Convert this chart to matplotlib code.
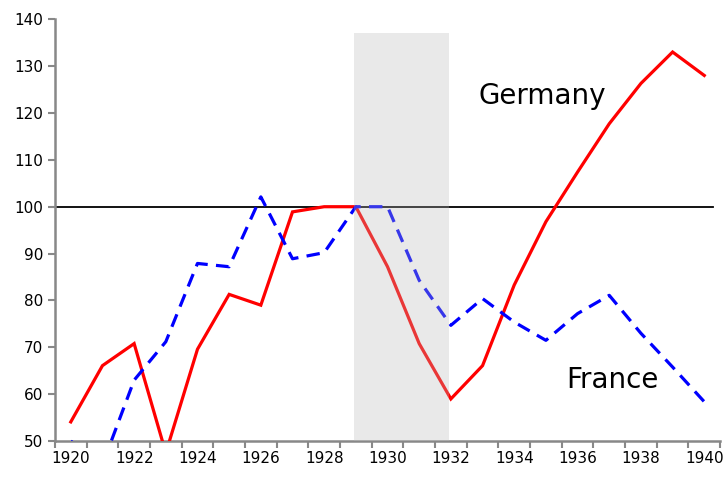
import matplotlib
matplotlib.use("Agg")
import matplotlib.pyplot as plt
from matplotlib.ticker import MultipleLocator

# index values (1929 = 100)
years = list(range(1920, 1941))
germany = [54.1, 66.1, 70.8, 47.5, 69.6, 81.3, 79.0, 98.9, 100.0, 100.0, 87.2,
           70.8, 59.0, 66.1, 83.3, 96.8, 107.4, 117.7, 126.3, 133.0, 128.0]
france = [50.0, 45.0, 63.0, 71.2, 87.9, 87.2, 102.1, 88.9, 90.2, 100.0, 100.0,
          84.3, 74.7, 80.4, 75.4, 71.5, 77.2, 81.1, 73.0, 65.8, 58.4]
depression = (1928.95, 1931.95)
shade_top = 137
baseline = 100

fig = plt.figure(figsize=(7.23, 4.80), dpi=100)
ax = fig.add_axes([0.076, 0.081, 0.92, 0.879])

ax.plot(years, germany, color="#ff0000", lw=2.3, solid_joinstyle="miter", zorder=3)
ax.plot(years, france, color="#0000ff", lw=2.3, dashes=(4.2, 2.6), zorder=3)
ax.axhline(baseline, color="black", lw=1.3, xmax=0.99, zorder=2)

# shaded depression years drawn over the lines, slightly transparent
ax.fill_between(depression, 50, shade_top, color="#b7b7b7", alpha=0.3,
                lw=0, zorder=4)

ax.text(1932.86, 122, "Germany", fontsize=20, ha="left", va="baseline")
ax.text(1935.64, 61.3, "France", fontsize=20, ha="left", va="baseline")

ax.set_xlim(1919.5, 1940.5)
ax.set_ylim(50, 140)
ax.yaxis.set_major_locator(MultipleLocator(10))
ax.set_xticks(range(1920, 1941, 2))
ax.set_xticks([y + 0.5 for y in range(1919, 1941)], minor=True)
ax.tick_params(axis="x", which="major", length=0, labelsize=11, pad=7)
ax.tick_params(axis="x", which="minor", length=5, width=1.5, color="#888888")
ax.tick_params(axis="y", length=5, width=1.5, color="#888888", labelsize=11)

for s in ("top", "right"):
    ax.spines[s].set_visible(False)
for s in ("left", "bottom"):
    ax.spines[s].set_color("#888888")
    ax.spines[s].set_linewidth(1.8)

fig.savefig("out.png", dpi=100)
